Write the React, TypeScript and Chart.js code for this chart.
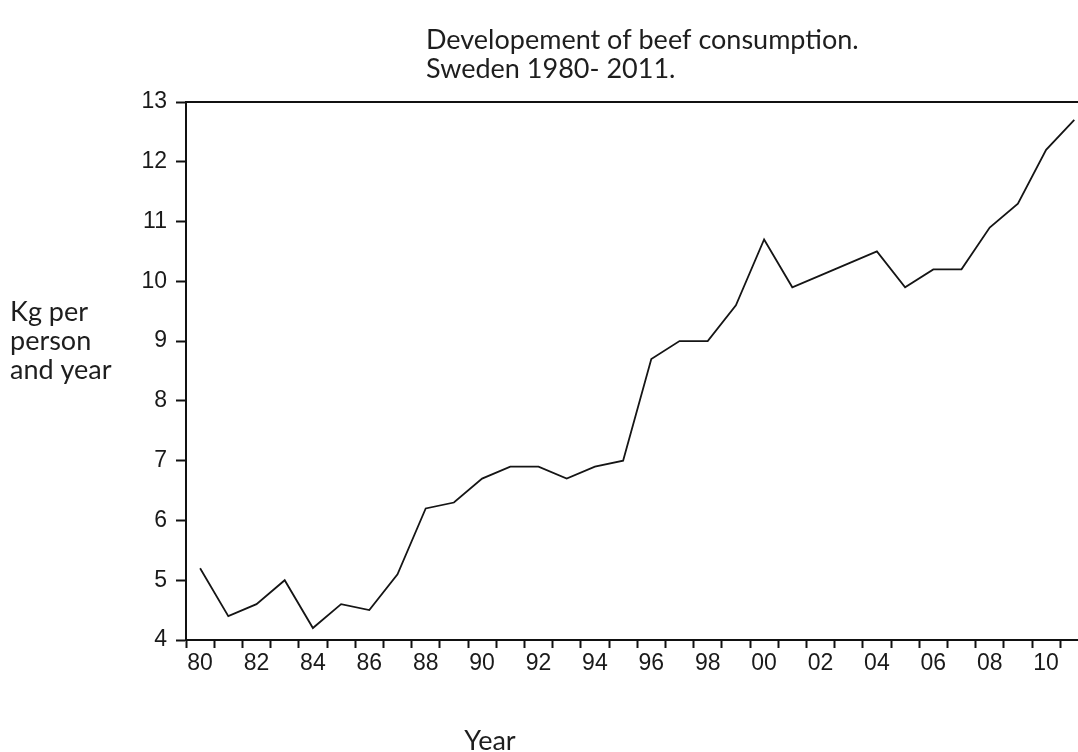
import React, { useEffect, useRef } from "react";
import { Chart, registerables } from "chart.js";

Chart.register(...registerables);

const years = [
  1980, 1981, 1982, 1983, 1984, 1985, 1986, 1987, 1988, 1989,
  1990, 1991, 1992, 1993, 1994, 1995, 1996, 1997, 1998, 1999,
  2000, 2001, 2002, 2003, 2004, 2005, 2006, 2007, 2008, 2009,
  2010, 2011,
];

const beefKgPerPerson = [
  5.2, 4.4, 4.6, 5.0, 4.2, 4.6, 4.5, 5.1, 6.2, 6.3,
  6.7, 6.9, 6.9, 6.7, 6.9, 7.0, 8.7, 9.0, 9.0, 9.6,
  10.7, 9.9, 10.1, 10.3, 10.5, 9.9, 10.2, 10.2, 10.9, 11.3,
  12.2, 12.7,
];

const yMin = 4;
const yMax = 13;
const yStep = 1;

const titleLines = ["Developement of beef consumption.", "Sweden 1980- 2011."];
const yAxisLabelLines = ["Kg per", "person", "and year"];
const xAxisLabel = "Year";

const textFont = "Lato, 'Open Sans', sans-serif";
const tickFont = "'Liberation Sans', Arial, sans-serif";

const overlayPlugin = {
  id: "overlayText",
  afterDraw(chart: any) {
    const { ctx, chartArea } = chart;
    ctx.save();
    // top frame line
    ctx.strokeStyle = "#111";
    ctx.lineWidth = 2;
    ctx.beginPath();
    ctx.moveTo(chartArea.left - 1, chartArea.top);
    ctx.lineTo(chartArea.right, chartArea.top);
    ctx.stroke();

    ctx.fillStyle = "#1e1e1e";
    ctx.textAlign = "left";
    ctx.textBaseline = "middle";
    ctx.font = `27px ${textFont}`;
    titleLines.forEach((line, i) => ctx.fillText(line, 426, 40 + i * 29));

    ctx.font = `27px ${textFont}`;
    yAxisLabelLines.forEach((line, i) => ctx.fillText(line, 10, 312 + i * 29));

    ctx.textAlign = "center";
    ctx.fillText(xAxisLabel, 490, 741);
    ctx.restore();
  },
};

export default function App() {
  const canvasRef = useRef<HTMLCanvasElement | null>(null);

  useEffect(() => {
    if (!canvasRef.current) return;
    const chart = new Chart(canvasRef.current, {
      type: "line",
      data: {
        labels: years.map(String),
        datasets: [
          {
            data: beefKgPerPerson,
            borderColor: "#151515",
            borderWidth: 1.8,
            pointRadius: 0,
            tension: 0,
            fill: false,
          },
        ],
      },
      options: {
        responsive: false,
        animation: false,
        layout: { padding: { top: 102, left: 0, right: 11.6, bottom: 72 } },
        plugins: {
          legend: { display: false },
          title: { display: false },
          tooltip: { enabled: false },
        },
        scales: {
          x: {
            type: "category",
            offset: true,
            afterFit: (scale: any) => {
              scale.height = 40;
            },
            grid: {
              offset: true,
              drawOnChartArea: false,
              drawTicks: true,
              tickLength: 8,
              tickColor: "#111",
              tickWidth: 2,
            },
            border: { display: true, color: "#111", width: 2 },
            ticks: {
              autoSkip: false,
              maxRotation: 0,
              minRotation: 0,
              padding: 2,
              color: "#1a1a1a",
              font: { family: tickFont, size: 23 },
              callback: (_v: any, i: number) =>
                years[i] % 2 === 0 ? String(years[i]).slice(2) : "",
            },
          },
          y: {
            type: "linear",
            min: yMin,
            max: yMax,
            afterFit: (scale: any) => {
              scale.width = 186;
            },
            grid: {
              drawOnChartArea: false,
              drawTicks: true,
              tickLength: 10,
              tickColor: "#111",
              tickWidth: 2,
            },
            border: { display: true, color: "#111", width: 2 },
            ticks: {
              stepSize: yStep,
              padding: 9,
              color: "#1a1a1a",
              font: { family: tickFont, size: 23 },
            },
          },
        },
      },
      plugins: [overlayPlugin],
    });
    return () => chart.destroy();
  }, []);

  return (
    <div
      style={{
        position: "fixed",
        left: 0,
        top: 0,
        width: 1078,
        height: 752,
        overflow: "hidden",
        background: "#fff",
      }}
    >
      <canvas
        ref={canvasRef}
        width={1100}
        height={752}
        style={{ width: 1100, height: 752, display: "block" }}
      />
    </div>
  );
}
